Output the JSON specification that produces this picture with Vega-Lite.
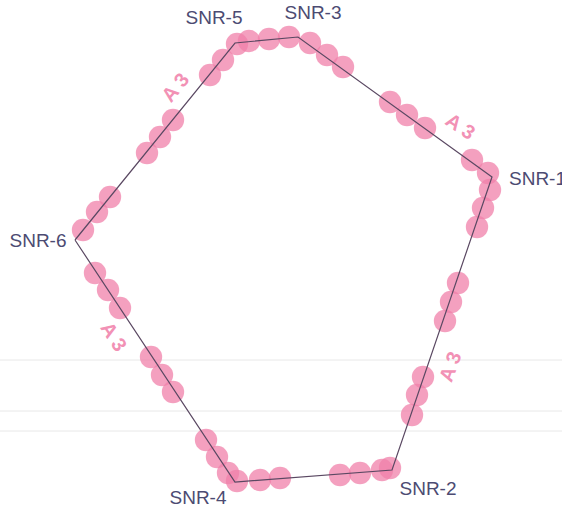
{
  "$schema": "https://vega.github.io/schema/vega-lite/v6.json",
  "width": 562,
  "height": 510,
  "autosize": "none",
  "padding": 0,
  "background": "#ffffff",
  "config": {"view": {"stroke": null}},
  "datasets": {
    "grid": [{"y": 360}, {"y": 411}, {"y": 431}],
    "ring": [
      {"node": "SNR-6", "seq": 1, "x": 75, "y": 240},
      {"node": "SNR-5", "seq": 2, "x": 235, "y": 43},
      {"node": "SNR-3", "seq": 3, "x": 298, "y": 37},
      {"node": "SNR-1", "seq": 4, "x": 492, "y": 177},
      {"node": "SNR-2", "seq": 5, "x": 392, "y": 470},
      {"node": "SNR-4", "seq": 6, "x": 235, "y": 482},
      {"node": "SNR-6", "seq": 7, "x": 75, "y": 240}
    ],
    "beads": [
      {"x": 83, "y": 230}, {"x": 97, "y": 212}, {"x": 110, "y": 197},
      {"x": 147, "y": 153}, {"x": 160, "y": 137}, {"x": 173, "y": 120},
      {"x": 210, "y": 75}, {"x": 223, "y": 60}, {"x": 237, "y": 44},
      {"x": 249, "y": 41}, {"x": 269, "y": 39}, {"x": 289, "y": 37},
      {"x": 310, "y": 43}, {"x": 327, "y": 55}, {"x": 343, "y": 67},
      {"x": 390, "y": 102}, {"x": 407, "y": 115}, {"x": 425, "y": 128},
      {"x": 472, "y": 160}, {"x": 488, "y": 173},
      {"x": 490, "y": 190}, {"x": 483, "y": 208}, {"x": 477, "y": 227},
      {"x": 458, "y": 283}, {"x": 451, "y": 302}, {"x": 445, "y": 321},
      {"x": 423, "y": 377}, {"x": 417, "y": 395}, {"x": 412, "y": 415},
      {"x": 390, "y": 468}, {"x": 382, "y": 470}, {"x": 360, "y": 473}, {"x": 340, "y": 475},
      {"x": 280, "y": 478}, {"x": 260, "y": 480}, {"x": 237, "y": 481},
      {"x": 228, "y": 473}, {"x": 217, "y": 457}, {"x": 206, "y": 440},
      {"x": 173, "y": 392}, {"x": 162, "y": 375}, {"x": 151, "y": 357},
      {"x": 120, "y": 308}, {"x": 108, "y": 290}, {"x": 95, "y": 273}
    ],
    "names": [
      {"name": "SNR-5", "x": 214, "y": 18},
      {"name": "SNR-3", "x": 313, "y": 13},
      {"name": "SNR-6", "x": 38, "y": 241},
      {"name": "SNR-4", "x": 198, "y": 498},
      {"name": "SNR-2", "x": 428, "y": 489}
    ],
    "namesLeft": [
      {"name": "SNR-1", "x": 509, "y": 179}
    ],
    "spans": [
      {"edge": "upper-left", "text": "A 3", "x": 176, "y": 88},
      {"edge": "upper-right", "text": "A 3", "x": 460, "y": 127},
      {"edge": "lower-left", "text": "A 3", "x": 113, "y": 337},
      {"edge": "lower-right", "text": "A 3", "x": 451, "y": 367}
    ]
  },
  "encoding": {
    "x": {"field": "x", "type": "quantitative", "scale": {"domain": [0, 562], "nice": false, "zero": false}, "axis": null},
    "y": {"field": "y", "type": "quantitative", "scale": {"domain": [0, 510], "nice": false, "zero": false, "reverse": true}, "axis": null}
  },
  "layer": [
    {
      "data": {"name": "grid"},
      "mark": {"type": "rule", "color": "#e8e8e8", "strokeWidth": 1},
      "encoding": {"x": null}
    },
    {
      "data": {"name": "beads"},
      "mark": {"type": "circle", "size": 500, "color": "#f080a9", "opacity": 0.75}
    },
    {
      "data": {"name": "ring"},
      "mark": {"type": "line", "color": "#5a4862", "strokeWidth": 1.2},
      "encoding": {"order": {"field": "seq", "type": "quantitative"}}
    },
    {
      "data": {"name": "names"},
      "mark": {"type": "text", "font": "Liberation Sans", "fontSize": 19, "color": "#4c4b72", "align": "center", "baseline": "middle"},
      "encoding": {"text": {"field": "name"}}
    },
    {
      "data": {"name": "namesLeft"},
      "mark": {"type": "text", "font": "Liberation Sans", "fontSize": 19, "color": "#4c4b72", "align": "left", "baseline": "middle"},
      "encoding": {"text": {"field": "name"}}
    },
    {
      "data": {"name": "spans"},
      "transform": [{"filter": "datum.edge === 'upper-left'"}],
      "mark": {"type": "text", "font": "Liberation Sans", "fontSize": 20, "fontWeight": "bold", "color": "#f291b5", "angle": -51, "align": "center", "baseline": "middle"},
      "encoding": {"text": {"field": "text"}}
    },
    {
      "data": {"name": "spans"},
      "transform": [{"filter": "datum.edge === 'upper-right'"}],
      "mark": {"type": "text", "font": "Liberation Sans", "fontSize": 20, "fontWeight": "bold", "color": "#f291b5", "angle": 34, "align": "center", "baseline": "middle"},
      "encoding": {"text": {"field": "text"}}
    },
    {
      "data": {"name": "spans"},
      "transform": [{"filter": "datum.edge === 'lower-left'"}],
      "mark": {"type": "text", "font": "Liberation Sans", "fontSize": 20, "fontWeight": "bold", "color": "#f291b5", "angle": 57, "align": "center", "baseline": "middle"},
      "encoding": {"text": {"field": "text"}}
    },
    {
      "data": {"name": "spans"},
      "transform": [{"filter": "datum.edge === 'lower-right'"}],
      "mark": {"type": "text", "font": "Liberation Sans", "fontSize": 20, "fontWeight": "bold", "color": "#f291b5", "angle": -70, "align": "center", "baseline": "middle"},
      "encoding": {"text": {"field": "text"}}
    }
  ]
}
